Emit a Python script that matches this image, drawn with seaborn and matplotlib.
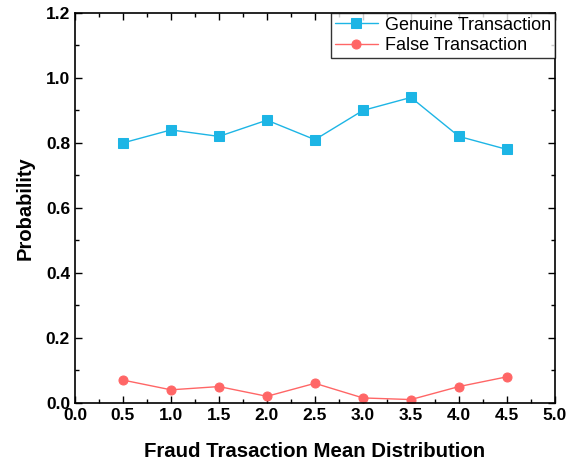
import pandas as pd
import matplotlib
matplotlib.use('Agg')
import matplotlib.pyplot as plt
import seaborn as sns
from matplotlib.ticker import MultipleLocator

# data
mean_dist = [0.5, 1.0, 1.5, 2.0, 2.5, 3.0, 3.5, 4.0, 4.5]
genuine = [0.80, 0.84, 0.82, 0.87, 0.81, 0.90, 0.94, 0.82, 0.78]
false_tx = [0.07, 0.04, 0.05, 0.02, 0.06, 0.015, 0.01, 0.05, 0.08]

sns.set_style('ticks')
plt.rcParams['font.family'] = ['Liberation Sans', 'DejaVu Sans']
plt.rcParams['text.color'] = 'black'
plt.rcParams['axes.labelcolor'] = 'black'
plt.rcParams['xtick.color'] = 'black'
plt.rcParams['ytick.color'] = 'black'

fig = plt.figure(figsize=(5.68, 4.63), dpi=100)
ax = fig.add_axes([0.132, 0.130, 0.845, 0.842])

sns.lineplot(x=mean_dist, y=genuine, ax=ax, color='#1DB5E5', marker='s',
             markersize=6.5, markeredgecolor='#1DB5E5', linewidth=1,
             label='Genuine Transaction')
sns.lineplot(x=mean_dist, y=false_tx, ax=ax, color='#FF6666', marker='o',
             markersize=6.5, markeredgecolor='#FF6666', linewidth=1,
             label='False Transaction')

ax.set_xlim(0, 5)
ax.set_ylim(0, 1.2)
ax.xaxis.set_major_locator(MultipleLocator(0.5))
ax.xaxis.set_minor_locator(MultipleLocator(0.25))
ax.yaxis.set_major_locator(MultipleLocator(0.2))
ax.yaxis.set_minor_locator(MultipleLocator(0.1))
ax.tick_params(which='both', direction='in', top=True, right=True,
               labelsize=12.5, width=1)
ax.tick_params(which='major', length=5)
ax.tick_params(which='minor', length=3)
ax.xaxis.set_major_formatter(plt.FormatStrFormatter('%.1f'))
ax.yaxis.set_major_formatter(plt.FormatStrFormatter('%.1f'))
for lbl in ax.get_xticklabels() + ax.get_yticklabels():
    lbl.set_fontweight('bold')
for sp in ax.spines.values():
    sp.set_linewidth(1.2)
    sp.set_color('black')

ax.set_xlabel('Fraud Trasaction Mean Distribution', fontsize=14.7,
              fontweight='bold', labelpad=14)
ax.set_ylabel('Probability', fontsize=14.5, fontweight='bold', labelpad=8)

leg = ax.legend(loc='upper right', fontsize=13, frameon=True, fancybox=False,
                borderaxespad=0, borderpad=0.2, handlelength=2.4,
                labelspacing=0.2, handletextpad=0.4)
leg.get_frame().set_edgecolor('black')
leg.get_frame().set_linewidth(1)

fig.savefig('out.png', dpi=100)
